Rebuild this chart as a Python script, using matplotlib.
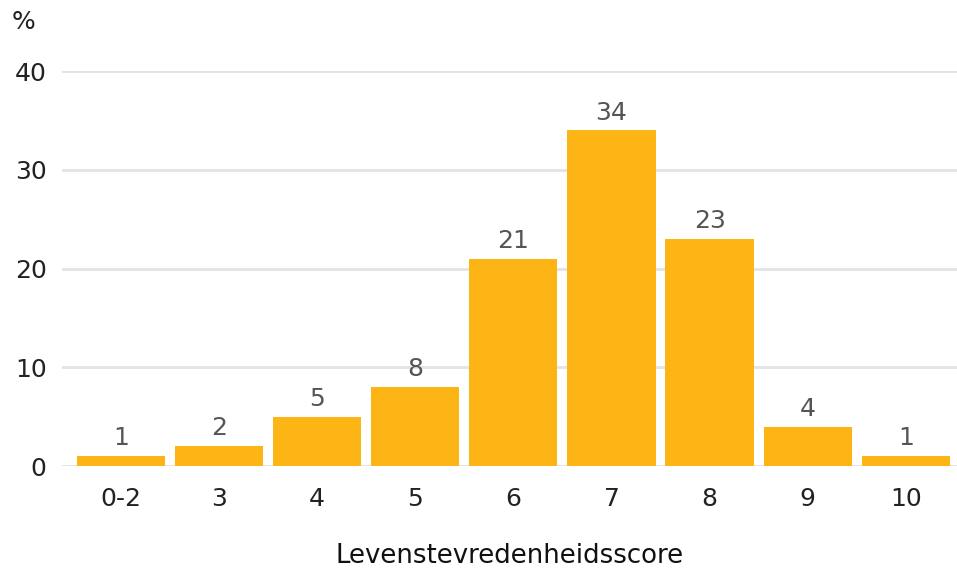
import matplotlib
matplotlib.use("Agg")
import matplotlib.pyplot as plt
import numpy as np

categories = ["0-2", "3", "4", "5", "6", "7", "8", "9", "10"]
values = [1, 2, 5, 8, 21, 34, 23, 4, 1]
yticks = [0, 10, 20, 30, 40]

BAR = "#FDB515"
GRID = "#e3e3e3"

fig = plt.figure(figsize=(9.57, 5.73), dpi=100)
ax = fig.add_axes([0.0648, 0.1867, 0.935, 0.689])

x = np.arange(len(categories))
ax.bar(x, values, width=0.9, color=BAR, zorder=3)
for xi, v in zip(x, values):
    ax.text(xi, v + 1.1, str(v), ha="center", va="baseline",
            fontsize=18, color="#555555")

ax.set_ylim(0, 40)
ax.set_xlim(-0.6, 8.52)
ax.set_yticks(yticks)
ax.set_xticks(x)
ax.set_xticklabels(categories)
ax.tick_params(axis="both", length=0, labelsize=18, colors="#222222")
ax.tick_params(axis="x", pad=15)
ax.tick_params(axis="y", pad=11)
ax.grid(axis="y", color=GRID, lw=2, zorder=0)
for s in ax.spines.values():
    s.set_visible(False)

ax.set_xlabel("Levenstevredenheidsscore", fontsize=18.7, color="#111111", labelpad=23)
fig.text(0.012, 0.982, "%", fontsize=18, color="#222222", ha="left", va="top")

fig.savefig("out.png", dpi=100)
